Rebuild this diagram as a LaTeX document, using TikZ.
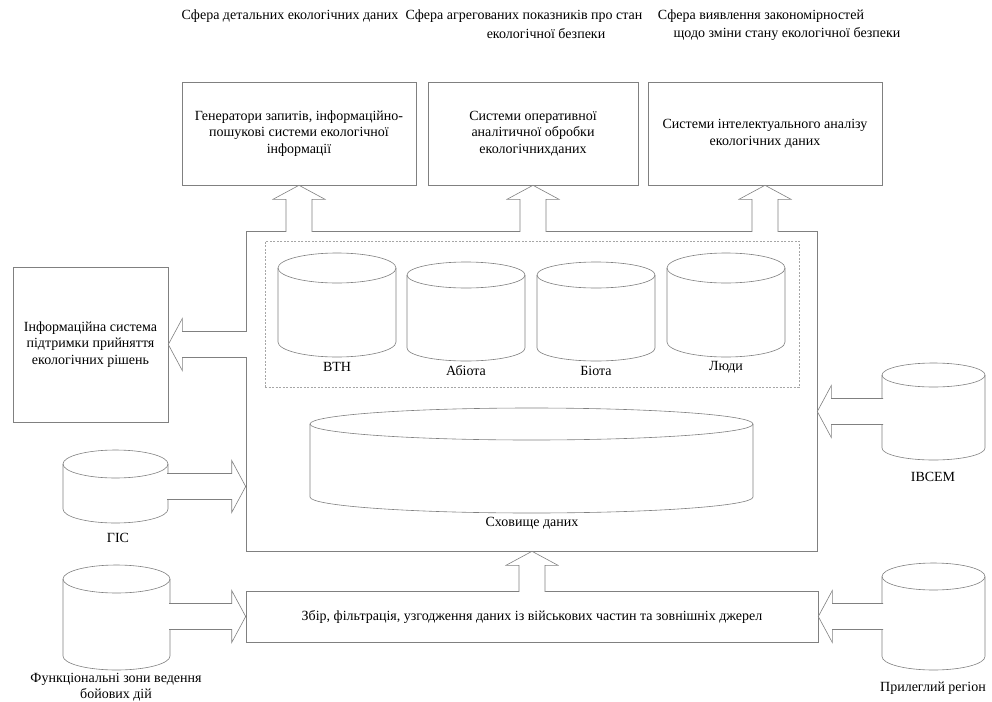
\documentclass[tikz,border=0pt]{standalone}
\usepackage{fontspec}
\setmainfont{Liberation Serif}
\usetikzlibrary{calc}

\tikzset{
  ln/.style={draw=black!50, line width=0.6pt},
  box/.style={ln, rectangle, inner sep=0pt, align=center, fill=white},
  dbbody/.style={ln},
  lbl/.style={inner sep=0pt, align=center, font=\fontsize{14}{16.5}\selectfont},
  txt/.style={font=\fontsize{14}{16.5}\selectfont},
}

% block arrow from #1 to #2 (coordinate expressions), shaft 26pt, head 52pt x 14pt
\newcommand\blockarrow[2]{%
  \path (#1) coordinate (bas) (#2) coordinate (bae);
  \pgfpointdiff{\pgfpointanchor{bas}{center}}{\pgfpointanchor{bae}{center}}%
  \pgfgetlastxy{\bax}{\bay}%
  \pgfmathsetmacro\baang{atan2(\bay,\bax)}%
  \pgfmathsetmacro\balen{veclen(\bax,\bay)}%
  \pgfmathsetmacro\baneck{\balen-14}%
  \begin{scope}[shift={(bas)}, rotate=\baang]
    \fill[white] (-1.2pt,-13pt) -- (\baneck pt,-13pt) -- (\baneck pt,-26pt) -- (\balen pt,0pt)
      -- (\baneck pt,26pt) -- (\baneck pt,13pt) -- (-1.2pt,13pt) -- cycle;
    \draw[ln] (-1.2pt,-13pt) -- (\baneck pt,-13pt) -- (\baneck pt,-26pt) -- (\balen pt,0pt)
      -- (\baneck pt,26pt) -- (\baneck pt,13pt) -- (-1.2pt,13pt);
  \end{scope}
}

% database cylinder: name, centre x, top y, bottom y, x radius, y radius
\newcommand\dbcyl[6]{%
  \node[inner sep=0pt, minimum width={2*#5 pt}, minimum height={(#4-#3)*1pt}]
    (#1) at (#2,{(#3+#4)/2}) {};
  \draw[dbbody] (#2,{#3+#6}) ellipse [x radius=#5pt, y radius=#6pt];
  \draw[dbbody] ({#2-#5},{#3+#6}) -- ({#2-#5},{#4-#6})
    arc [start angle=180, end angle=360, x radius=#5pt, y radius=#6pt]
    -- ({#2+#5},{#3+#6});
}

\begin{document}
\begin{tikzpicture}[x=1pt, y=-1pt]
\useasboundingbox (0,0) rectangle (992,701);

% sphere headings
\node[txt] (t1) at (290,16) {Сфера детальних екологічних даних};
\node[txt] (t2a) at (524,16) {Сфера агрегованих показників про стан};
\node[txt] (t2b) at (546,34) {екологічної безпеки};
\node[txt] (t3a) at (761,16) {Сфера виявлення закономірностей};
\node[txt] (t3b) at (787,34) {щодо зміни стану екологічної безпеки};

% analysis systems
\node[box, lbl, minimum width=234pt, minimum height=103pt] (b1) at (299,133.5)
  {Генератори запитів, інформаційно-\\пошукові системи екологічної\\інформації};
\node[box, lbl, minimum width=210pt, minimum height=103pt] (b2) at (533,133.5)
  {Системи оперативної\\аналітичної обробки\\екологічнихданих};
\node[box, lbl, minimum width=234pt, minimum height=103pt] (b3) at (765,133.5)
  {Системи інтелектуального аналізу\\екологічних даних};

% decision support system
\node[box, lbl, minimum width=155pt, minimum height=155pt] (info) at (90.5,344.5)
  {Інформаційна система\\підтримки прийняття\\екологічних рішень};

% data warehouse frame
\node[box, minimum width=571pt, minimum height=320pt] (main) at (531.5,391) {};
\node[rectangle, draw=black!35, line width=0.5pt, dash pattern=on 2pt off 1.5pt,
  minimum width=534pt, minimum height=146pt, inner sep=0pt] (inner) at (532,314) {};

% collection and filtering
\node[box, lbl, minimum width=572pt, minimum height=51pt] (bot) at (532,616.5)
  {Збір, фільтрація, узгодження даних із військових частин та зовнішніх джерел};

% subject databases
\dbcyl{vtn}{337}{253}{357}{59}{15}
\dbcyl{abio}{466}{262}{361}{59}{13}
\dbcyl{bio}{596}{262}{361}{59}{13}
\dbcyl{people}{726}{253}{357}{59}{15}
\node[lbl] at (337,367) {ВТН};
\node[lbl] at (466,371) {Абіота};
\node[lbl] at (596,371) {Біота};
\node[lbl] at (726,367) {Люди};

% warehouse
\dbcyl{store}{531.5}{408}{513}{221.5}{16}
\node[lbl] at (532,523) {Сховище даних};

% external sources
\dbcyl{ivsem}{933.5}{363}{460}{51.5}{12}
\node[lbl] at (933,477) {ІВСЕМ};
\dbcyl{gis}{115.5}{450}{523}{52.5}{14}
\node[lbl] at (118,538) {ГІС};
\dbcyl{zones}{116.5}{565}{670}{53.5}{14}
\node[lbl] at (116,687) {Функціональні зони ведення\\бойових дій};
\dbcyl{region}{933.5}{563}{670}{51.5}{13.5}
\node[lbl] at (933,688) {Прилеглий регіон};

% flows
\blockarrow{b1.south |- main.north}{b1.south}
\blockarrow{b2.south |- main.north}{b2.south}
\blockarrow{b3.south |- main.north}{b3.south}
\blockarrow{main.west |- info.east}{info.east}
\blockarrow{ivsem.west}{ivsem.west -| main.east}
\blockarrow{gis.east}{gis.east -| main.west}
\blockarrow{bot.north}{bot.north |- main.south}
\blockarrow{bot.west -| zones.east}{bot.west}
\blockarrow{bot.east -| region.west}{bot.east}
\end{tikzpicture}
\end{document}
